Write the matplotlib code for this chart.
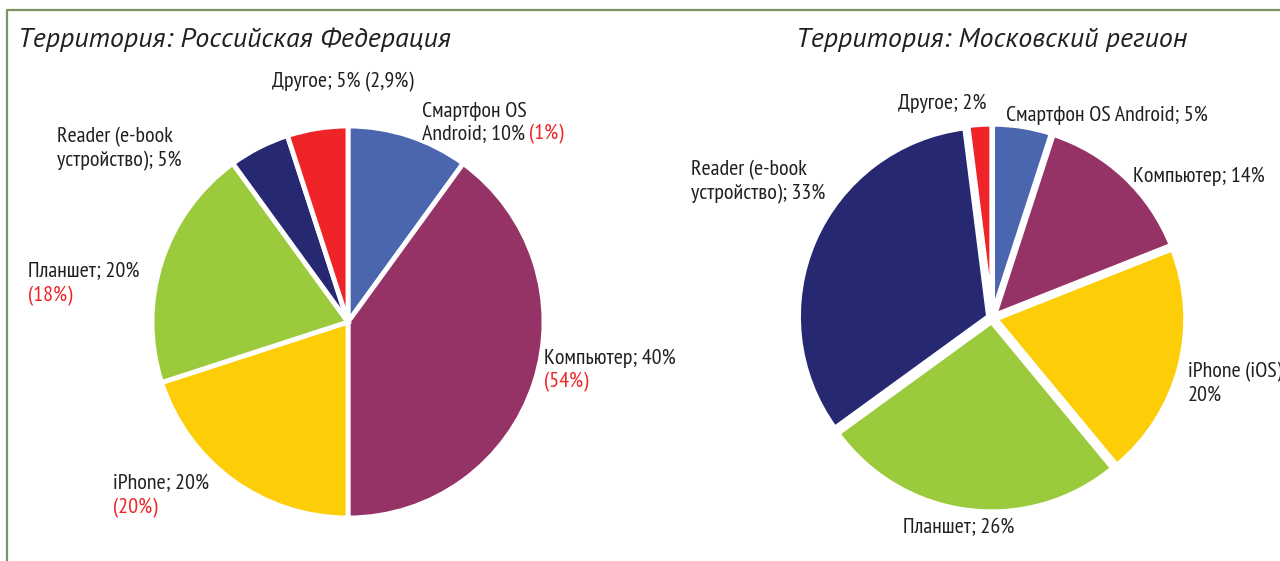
import matplotlib.pyplot as plt
from matplotlib.lines import Line2D

plt.rcParams['font.family'] = ['PT Sans Narrow', 'DejaVu Sans']

# data: Russian Federation (left)
rf_names = ['Смартфон OS Android', 'Компьютер', 'iPhone', 'Планшет',
            'Reader (e-book устройство)', 'Другое']
rf_values = [10, 40, 20, 20, 5, 5]
rf_prev = ['1%', '54%', '20%', '18%', None, '2,9%']

# data: Moscow region (right)
msk_names = ['Смартфон OS Android', 'Компьютер', 'iPhone (iOS)', 'Планшет',
             'Reader (e-book устройство)', 'Другое']
msk_values = [5, 14, 20, 26, 33, 2]

colors = ['#4a66ae', '#963366', '#fdcd07', '#9bcb3c', '#262872', '#ee2428']
dark = '#231f20'
red = '#ee2428'

W, H = 1280, 561
fig = plt.figure(figsize=(W / 100, H / 100), dpi=100)


def add_pie(cx, cy, r, values, explode):
    # place an axes so that a radius-1 pie lands at (cx, cy) px with radius r
    half = 1.1 * r
    ax = fig.add_axes([(cx - half) / W, (H - cy - half) / H, 2 * half / W, 2 * half / H])
    ax.pie(values, colors=colors, startangle=90, counterclock=False,
           explode=[explode] * len(values),
           wedgeprops=dict(edgecolor='white', linewidth=3.5))
    ax.set_xlim(-1.1, 1.1)
    ax.set_ylim(-1.1, 1.1)
    ax.set_aspect('equal')
    ax.axis('off')
    return ax


add_pie(348, 322, 196, rf_values, 0.0)
add_pie(992, 318, 190, msk_values, 0.02)

# overlay in pixel coordinates for frame and labels
ov = fig.add_axes([0, 0, 1, 1], zorder=5)
ov.set_xlim(0, W)
ov.set_ylim(H, 0)
ov.axis('off')
ov.patch.set_alpha(0)

frame_c = '#7b9461'
ov.add_line(Line2D([7, 7, W], [H, 10, 10], color=frame_c, linewidth=1.6))

title_font = ['PT Sans', 'DejaVu Sans']
ov.text(18, 40, 'Территория: Российская Федерация', fontsize=20.2, style='italic',
        family=title_font, color=dark, va='center')
ov.text(796, 40, 'Территория: Московский регион', fontsize=20.2, style='italic',
        family=title_font, color=dark, va='center')

fs = 15.8


def label(x, y, lines):
    # lines: list of (black_text, red_text or None)
    for i, (blk, rd) in enumerate(lines):
        yy = y + i * 23.5
        if blk:
            t = ov.text(x, yy, blk, fontsize=fs, color=dark, va='center')
            if rd:
                ov.annotate(rd, xy=(1, 0), xycoords=t, xytext=(3, 0),
                            textcoords='offset points', fontsize=fs,
                            color=red, va='bottom')
        elif rd:
            ov.text(x, yy, rd, fontsize=fs, color=red, va='center')


def pct(v):
    return f'{v}%'


# left pie labels
label(272, 82, [(f'{rf_names[5]}; {pct(rf_values[5])} ({rf_prev[5]})', None)])
label(422, 111, [('Смартфон OS', None),
                 (f'Android; {pct(rf_values[0])}', f'({rf_prev[0]})')])
label(57, 137, [('Reader (e-book', None),
                (f'устройство); {pct(rf_values[4])}', None)])
label(28, 272, [(f'{rf_names[3]}; {pct(rf_values[3])}', None),
                (None, f'({rf_prev[3]})')])
label(544, 358, [(f'{rf_names[1]}; {pct(rf_values[1])}', None),
                 (None, f'({rf_prev[1]})')])
label(113, 484, [(f'{rf_names[2]}; {pct(rf_values[2])}', None),
                 (None, f'({rf_prev[2]})')])

# right pie labels
label(898, 103, [(f'{msk_names[5]}; {pct(msk_values[5])}', None)])
label(1006, 115, [(f'{msk_names[0]}; {pct(msk_values[0])}', None)])
label(691, 170, [('Reader (e-book', None),
                 (f'устройство); {pct(msk_values[4])}', None)])
label(1133, 176, [(f'{msk_names[1]}; {pct(msk_values[1])}', None)])
label(1188, 372, [(msk_names[2], None), (pct(msk_values[2]), None)])
label(903, 528, [(f'{msk_names[3]}; {pct(msk_values[3])}', None)])

fig.savefig('out.png', dpi=100, facecolor='white')
